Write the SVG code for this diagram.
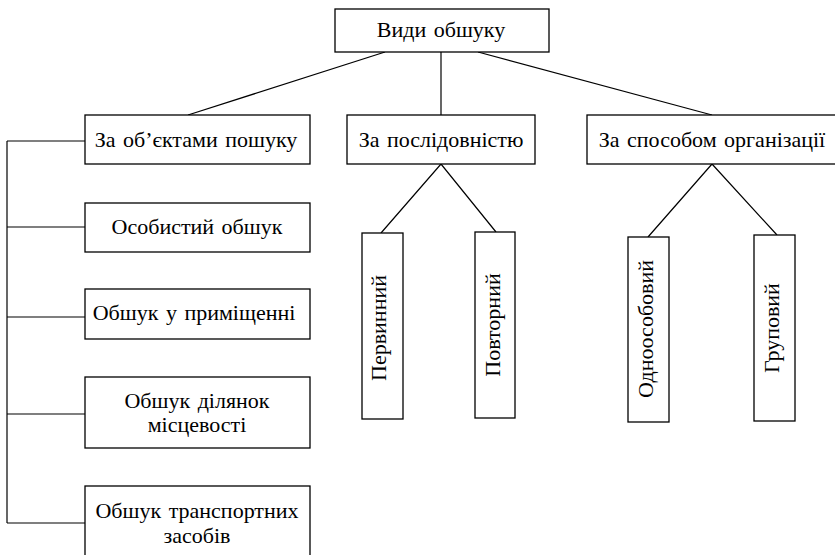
<svg xmlns="http://www.w3.org/2000/svg" width="835" height="555" viewBox="0 0 835 555">
<style>
rect{fill:#fff;stroke:#000;stroke-width:1.3}
line,polyline{fill:none;stroke:#000;stroke-width:1.2}
text{font-family:"Liberation Serif","Times New Roman",serif;font-size:22px;fill:#000;text-anchor:middle;word-spacing:2px}
</style>
<rect x="0" y="0" width="835" height="555" style="fill:#fff;stroke:none"/>
<g id="connectors">
<line x1="385" y1="52" x2="188" y2="115"/>
<line x1="441" y1="52" x2="441" y2="115"/>
<line x1="478" y1="52" x2="712" y2="115"/>
<polyline points="381,233 441,164 496,232"/>
<polyline points="648,237 712,164 777,235"/>
<line x1="7" y1="141" x2="7" y2="523"/>
<line x1="7" y1="141" x2="85" y2="141"/>
<line x1="7" y1="227" x2="85" y2="227"/>
<line x1="7" y1="317" x2="85" y2="317"/>
<line x1="7" y1="414" x2="85" y2="414"/>
<line x1="7" y1="523" x2="85" y2="523"/>
</g>
<g id="root"><rect x="335" y="9" width="214" height="43"/><text x="441" y="37">Види обшуку</text></g>
<g id="objects"><rect x="85" y="115" width="225" height="49"/><text x="196" y="147">За об’єктами пошуку</text></g>
<g id="sequence"><rect x="347" y="115" width="188" height="49"/><text x="441" y="147">За послідовністю</text></g>
<g id="organization"><rect x="587" y="115" width="252" height="49"/><text x="712" y="147">За способом організації</text></g>
<g id="personal"><rect x="85" y="203" width="225" height="49"/><text x="197" y="234">Особистий обшук</text></g>
<g id="premises"><rect x="85" y="289" width="225" height="50"/><text x="194" y="320">Обшук у приміщенні</text></g>
<g id="terrain"><rect x="85" y="377" width="225" height="71"/><text x="197" y="408">Обшук ділянок</text><text x="197" y="432">місцевості</text></g>
<g id="vehicles"><rect x="85" y="486" width="225" height="80"/><text x="197" y="518">Обшук транспортних</text><text x="197" y="543">засобів</text></g>
<g id="primary"><rect x="362" y="233" width="41" height="186"/><text transform="translate(386,328) rotate(-90)">Первинний</text></g>
<g id="repeated"><rect x="475" y="232" width="40" height="186"/><text transform="translate(500,325) rotate(-90)">Повторний</text></g>
<g id="individual"><rect x="628" y="237" width="41" height="185"/><text transform="translate(653,329) rotate(-90)">Одноособовий</text></g>
<g id="group"><rect x="754" y="235" width="41" height="186"/><text transform="translate(779,328) rotate(-90)">Груповий</text></g>
</svg>
